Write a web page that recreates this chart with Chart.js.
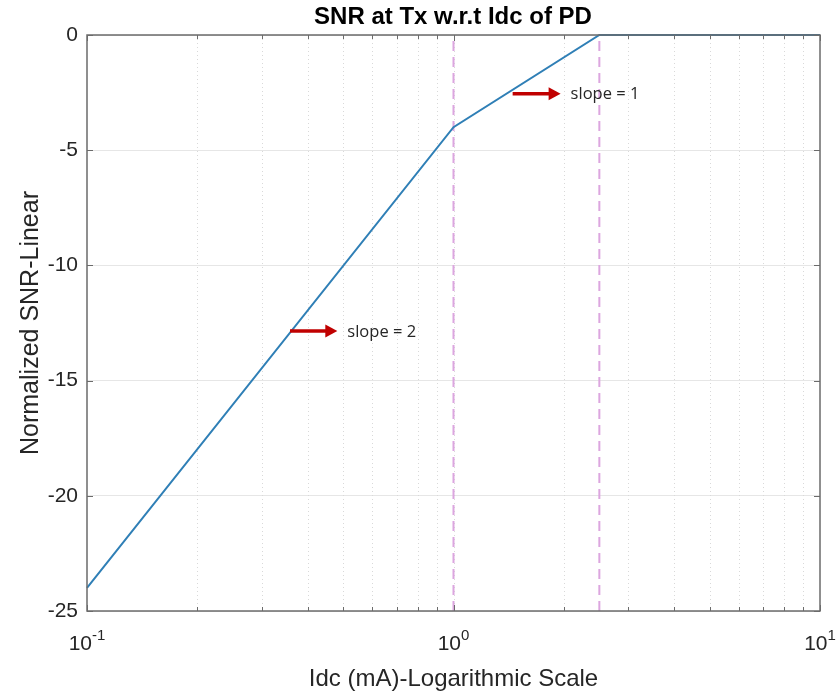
<!DOCTYPE html>
<html>
<head>
<meta charset="utf-8">
<script src="https://cdn.jsdelivr.net/npm/chart.js@4.4.1/dist/chart.umd.min.js"></script>
<style>
  html, body { margin: 0; padding: 0; background: #ffffff; }
  #wrap { width: 838px; height: 694px; }
</style>
</head>
<body>
<div id="wrap"><canvas id="c" width="838" height="694"></canvas></div>
<script>
// ---- data ----
const idcValues = [0.1, 1, 2.5, 10];          // Idc (mA)
const snrValues = [-24, -4, 0, 0];            // normalized SNR
const markerX = [1, 2.5];                     // dashed vertical markers
const yTicks = [-25, -20, -15, -10, -5, 0];
const xDecades = [0.1, 1, 10];
const xDecadeExponents = ['-1', '0', '1'];
const xGridValues = [0.2, 0.3, 0.4, 0.5, 0.6, 0.7, 0.8, 0.9, 1, 2, 3, 4, 5, 6, 7, 8, 9];
const arrowStartX = [0.358, 1.45];
const arrowEndX = [0.482, 1.96];
const arrowY = [-12.85, -2.55];
const arrowLabels = ['slope = 2', 'slope = 1'];
const titleText = 'SNR at Tx w.r.t Idc of PD';
const xTitle = 'Idc (mA)-Logarithmic Scale';
const yTitle = 'Normalized SNR-Linear';

const TEXT = '#262626';
const SANS = '"Liberation Sans", Arial, Helvetica, sans-serif';

const datasets = [{
  data: idcValues.map((x, i) => ({ x: x, y: snrValues[i] })),
  borderColor: '#2f7fb6',
  borderWidth: 2,
  pointRadius: 0,
  fill: false,
  tension: 0,
  clip: 3
}];
markerX.forEach(x => {
  datasets.push({
    data: [{ x: x, y: -25 }, { x: x, y: 0 }],
    borderColor: '#dca6df',
    borderWidth: 2,
    borderDash: [10, 6],
    pointRadius: 0,
    fill: false
  });
});

const decorPlugin = {
  id: 'decor',
  beforeDatasetsDraw(chart) {
    const { ctx, chartArea: a, scales: { x } } = chart;
    ctx.save();
    ctx.strokeStyle = '#d9d9d9';
    ctx.lineWidth = 1;
    ctx.setLineDash([1, 3]);
    xGridValues.forEach(v => {
      const px = Math.round(x.getPixelForValue(v)) + 0.5;
      ctx.beginPath();
      ctx.moveTo(px, a.top);
      ctx.lineTo(px, a.bottom);
      ctx.stroke();
    });
    ctx.restore();
  },
  afterDatasetsDraw(chart) {
    const { ctx, chartArea: a, scales: { x, y } } = chart;
    ctx.save();
    // arrows
    arrowStartX.forEach((sx, i) => {
      const x0 = x.getPixelForValue(sx);
      const x1 = x.getPixelForValue(arrowEndX[i]);
      const py = y.getPixelForValue(arrowY[i]);
      ctx.strokeStyle = '#c00000';
      ctx.fillStyle = '#c00000';
      ctx.lineWidth = 3.5;
      ctx.beginPath();
      ctx.moveTo(x0, py);
      ctx.lineTo(x1 - 10, py);
      ctx.stroke();
      ctx.beginPath();
      ctx.moveTo(x1, py);
      ctx.lineTo(x1 - 12, py - 6.5);
      ctx.lineTo(x1 - 12, py + 6.5);
      ctx.closePath();
      ctx.fill();
      ctx.fillStyle = TEXT;
      ctx.font = '16.5px "Open Sans", "Liberation Sans", sans-serif';
      ctx.textAlign = 'left';
      ctx.textBaseline = 'middle';
      ctx.fillText(arrowLabels[i], x1 + 10, py + 1);
    });
    // box
    ctx.strokeStyle = '#6b6b6b';
    ctx.lineWidth = 1.5;
    ctx.strokeRect(a.left, a.top, a.right - a.left, a.bottom - a.top);
    // inward ticks
    ctx.lineWidth = 1;
    ctx.strokeStyle = '#6b6b6b';
    const allX = xDecades.concat(xGridValues);
    allX.forEach(v => {
      const px = Math.round(x.getPixelForValue(v)) + 0.5;
      const len = xDecades.includes(v) ? 6 : 4;
      ctx.beginPath();
      ctx.moveTo(px, a.bottom); ctx.lineTo(px, a.bottom - len);
      ctx.moveTo(px, a.top); ctx.lineTo(px, a.top + len);
      ctx.stroke();
    });
    yTicks.forEach(v => {
      const py = Math.round(y.getPixelForValue(v)) + 0.5;
      ctx.beginPath();
      ctx.moveTo(a.left, py); ctx.lineTo(a.left + 6, py);
      ctx.moveTo(a.right, py); ctx.lineTo(a.right - 6, py);
      ctx.stroke();
    });
    ctx.restore();
  },
  afterDraw(chart) {
    const { ctx, chartArea: a, scales: { x } } = chart;
    ctx.save();
    ctx.fillStyle = TEXT;
    // x decade labels with superscripts
    xDecades.forEach((v, i) => {
      const px = x.getPixelForValue(v);
      ctx.font = '21px ' + SANS;
      const wBase = ctx.measureText('10').width;
      ctx.font = '15px ' + SANS;
      const wExp = ctx.measureText(xDecadeExponents[i]).width;
      const left = px - (wBase + wExp) / 2;
      ctx.textAlign = 'left';
      ctx.textBaseline = 'alphabetic';
      ctx.font = '21px ' + SANS;
      ctx.fillText('10', left, 650);
      ctx.font = '15px ' + SANS;
      ctx.fillText(xDecadeExponents[i], left + wBase, 640);
    });
    // x title
    ctx.font = '24px ' + SANS;
    ctx.textAlign = 'center';
    ctx.textBaseline = 'alphabetic';
    ctx.fillText(xTitle, (a.left + a.right) / 2, 686);
    // y title
    ctx.save();
    ctx.translate(31, (a.top + a.bottom) / 2);
    ctx.rotate(-Math.PI / 2);
    ctx.font = '25px ' + SANS;
    ctx.textAlign = 'center';
    ctx.textBaseline = 'middle';
    ctx.fillText(yTitle, 0, 0);
    ctx.restore();
    // title
    ctx.fillStyle = '#000000';
    ctx.font = 'bold 24px ' + SANS;
    ctx.textAlign = 'center';
    ctx.textBaseline = 'alphabetic';
    ctx.fillText(titleText, 453, 24);
    ctx.restore();
  }
};

new Chart(document.getElementById('c'), {
  type: 'line',
  data: { datasets: datasets },
  options: {
    responsive: false,
    animation: false,
    devicePixelRatio: 1,
    layout: { padding: { top: 35, right: 18, left: 0, bottom: 0 } },
    plugins: { legend: { display: false }, tooltip: { enabled: false }, title: { display: false } },
    scales: {
      x: {
        type: 'logarithmic',
        min: 0.1,
        max: 10,
        grid: { display: false },
        border: { display: false },
        ticks: { display: false },
        afterFit(s) { s.height = 83; }
      },
      y: {
        type: 'linear',
        min: -25,
        max: 0,
        afterBuildTicks(s) { s.ticks = yTicks.map(v => ({ value: v })); },
        ticks: {
          font: { size: 21, family: SANS },
          color: TEXT,
          padding: 9,
          callback: v => String(v)
        },
        grid: { color: '#e6e6e6', lineWidth: 1, drawTicks: false },
        border: { display: false },
        afterFit(s) { s.width = 87; }
      }
    }
  },
  plugins: [decorPlugin]
});
</script>
</body>
</html>
